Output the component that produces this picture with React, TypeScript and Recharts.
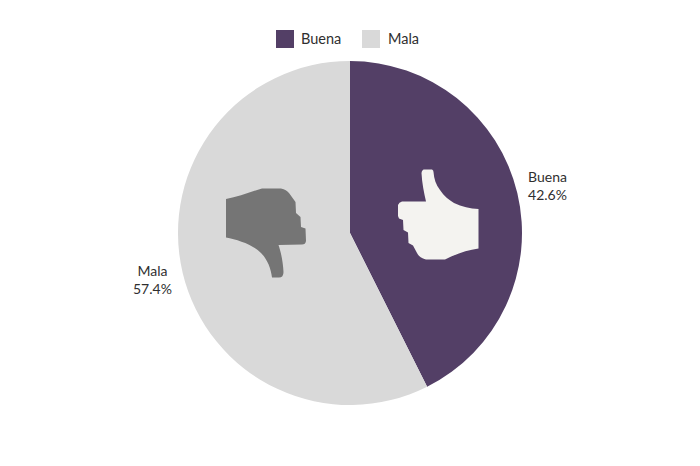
import React from 'react';
import { PieChart, Pie, Cell, Legend } from 'recharts';

const labels = ['Buena', 'Mala'];
const shares = [42.6, 57.4];
const colors = ['#533F66', '#D9D9D9'];

const data = labels.map((name, i) => ({ name, value: shares[i] }));

const FONT = 'Lato, sans-serif';
const TEXT = '#2f2f2f';

const THUMB_UP =
  'M423.5 169.5 L432 169.5 Q433.5 170 433.5 172 C434 179 436 185 440 190 C444 196 449 200 454 203 C462 207 470 208.5 478.5 209 L478.5 248.5 C467 250 456 254 445 259.5 L426 259.5 C421 258.5 418.5 256 417 253 L413 245.5 L408.5 243 L408 232.5 L403.5 230 L403 220 L399 218.5 L398 216 L398 205 Q399 202 402 201.5 L426 201.5 C424 193 422 183 421.5 173 Q421.5 170.5 423.5 169.5 Z';

const THUMB_DOWN =
  'M226 199 C238 197 250 192 262 188.5 L281 188.5 C285 189 287 191 289 193 L295.5 202 L296 213 L300.5 217 L301 227 L305.5 228.5 L306 241 Q305.5 244.5 302 244.5 L278.5 245 C281 252 283 262 283.5 272 Q283.5 277.5 279 277.5 L272 277.5 C271 268 267 259 261 253 C252 244 238 240 226 237.5 Z';

const icons = [
  { d: THUMB_UP, fill: '#F4F3F0' },
  { d: THUMB_DOWN, fill: '#757575' },
];

// icons go in with the labels so they paint above the slices
const renderLabel = (props: any) => {
  const { cx, cy, midAngle, outerRadius, index } = props;
  const r = outerRadius + 31;
  const rad = (midAngle * Math.PI) / 180;
  const x = cx + r * Math.cos(rad);
  const y = cy - r * Math.sin(rad);
  return (
    <g>
      <path d={icons[index].d} fill={icons[index].fill} />
      <text x={x} textAnchor="middle" fontFamily={FONT} fontSize={14} fill={TEXT}>
        <tspan x={x} y={y - 4}>{labels[index]}</tspan>
        <tspan x={x} y={y + 14}>{shares[index]}%</tspan>
      </text>
    </g>
  );
};

const renderLegend = () => (
  <div style={{ position: 'relative', height: 18, fontFamily: FONT, fontSize: 14.5, color: TEXT }}>
    {labels.map((name, i) => (
      <div key={name} style={{ position: 'absolute', left: i === 0 ? 0 : 86, top: -1, display: 'flex', alignItems: 'center' }}>
        <span style={{ width: 18, height: 18, background: colors[i], display: 'inline-block', marginRight: i === 0 ? 7 : 8, position: 'relative', top: 1 }} />
        <span>{name}</span>
      </div>
    ))}
  </div>
);

export default function App() {
  return (
    <div style={{ position: 'absolute', left: 0, top: 0, width: 700, height: 466, background: '#fff' }}>
      <PieChart width={700} height={466} margin={{ top: 0, right: 0, bottom: 0, left: 0 }}>
        <Pie
          data={data}
          dataKey="value"
          nameKey="name"
          cx={350}
          cy={233}
          outerRadius={172}
          startAngle={90}
          endAngle={-270}
          stroke="none"
          label={renderLabel}
          labelLine={false}
          isAnimationActive={false}
        >
          {data.map((d, i) => (
            <Cell key={d.name} fill={colors[i]} />
          ))}
        </Pie>
        <Legend
          content={renderLegend}
          layout="vertical"
          align="right"
          verticalAlign="top"
          wrapperStyle={{ left: 276, top: 30, right: 'auto', width: 180 }}
        />
      </PieChart>
    </div>
  );
}
